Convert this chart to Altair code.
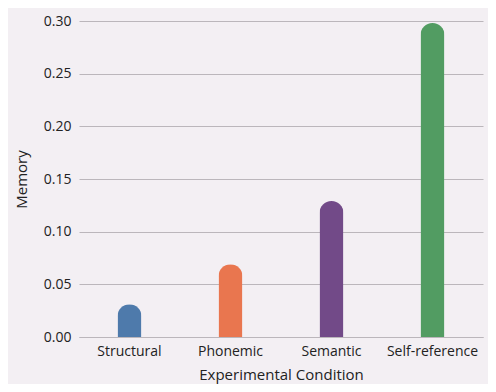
import altair as alt
import pandas as pd

conditions = ["Structural", "Phonemic", "Semantic", "Self-reference"]
memory = [0.031, 0.069, 0.129, 0.298]
colors = ["#4e7aab", "#e9764f", "#724a88", "#529c62"]

df = pd.DataFrame({"Condition": conditions, "Memory": memory})

chart = alt.Chart(df).mark_bar(size=24, cornerRadiusTopLeft=12, cornerRadiusTopRight=12).encode(
    x=alt.X("Condition:N", sort=conditions, title="Experimental Condition",
            axis=alt.Axis(labelAngle=0, ticks=False, domain=True, domainColor="#bbb6bb",
                          labelPadding=7, titlePadding=9, labelFontSize=14, titleFontSize=15,
                          labelColor="#222", titleColor="#222", titleFontWeight="normal")),
    y=alt.Y("Memory:Q", title="Memory", scale=alt.Scale(domain=[0, 0.3]),
            axis=alt.Axis(values=[0, 0.05, 0.1, 0.15, 0.2, 0.25, 0.3], format=".2f",
                          domain=False, ticks=False, labelPadding=8, titlePadding=14,
                          labelFontSize=14, titleFontSize=15, gridColor="#bbb6bb",
                          labelColor="#222", titleColor="#222", titleFontWeight="normal")),
    color=alt.Color("Condition:N", sort=conditions,
                    scale=alt.Scale(domain=conditions, range=colors), legend=None),
).properties(
    width=404, height=316,
    autosize=alt.AutoSizeParams(type="none"),
    padding={"left": 71, "top": 13, "right": 5, "bottom": 47},
    background="#f3eff3",
).configure_view(stroke=None).configure_axis(labelFont="Open Sans", titleFont="Open Sans")

chart.save("out.html", embed_options={"renderer": "svg", "actions": False})
